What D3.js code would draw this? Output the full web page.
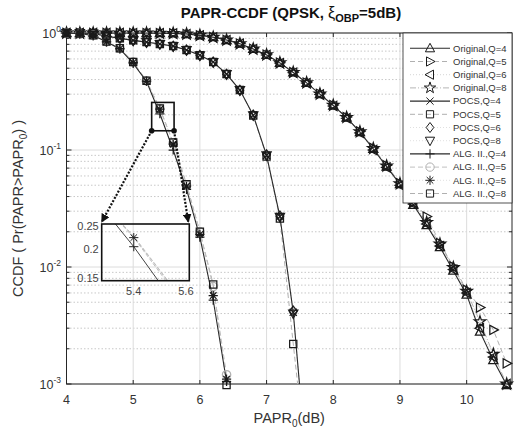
<!DOCTYPE html>
<html><head><meta charset="utf-8">
<script src="https://cdn.jsdelivr.net/npm/d3@7"></script>
<style>
body{margin:0;background:#fff;}
svg{display:block;font-family:"Liberation Sans",Arial,sans-serif;}
</style>
</head><body>
<svg id="c" width="515" height="437"></svg>
<script>
// ---------------- data ----------------
const papr = [4.0,4.2,4.4,4.6,4.8,5.0,5.2,5.4,5.6,5.8,6.0,6.2,6.4,6.6,6.8,7.0,7.2,7.4,7.6,7.8,8.0,8.2,8.4,8.6,8.8,9.0,9.2,9.4,9.6,9.8,10.0,10.2,10.4,10.6];
const paprPOCS = [4.0,4.2,4.4,4.6,4.8,5.0,5.2,5.4,5.6,5.8,6.0,6.2,6.4,6.6,6.8,7.0,7.2,7.4,7.6];
const paprALG = [4.0,4.2,4.4,4.6,4.8,5.0,5.2,5.4,5.6,5.8,6.0,6.2,6.4,6.6];

const orig4 = [1,1,1,1,1,0.9995,0.999,0.997,0.993,0.98,0.955,0.92,0.87,0.81,0.73,0.65,0.555,0.46,0.375,0.3,0.24,0.189,0.142,0.102,0.072,0.051,0.034,0.0228,0.0148,0.0093,0.0058,0.0028,0.0016,0.00098];
const orig5 = [1,1,1,1,1,0.9995,0.999,0.997,0.993,0.98,0.956,0.921,0.872,0.812,0.732,0.652,0.557,0.462,0.377,0.302,0.242,0.191,0.144,0.104,0.074,0.052,0.036,0.027,0.016,0.0101,0.0064,0.0045,0.0029,0.0015];
const orig6 = [1,1,1,1,1,0.9995,0.999,0.997,0.993,0.98,0.955,0.919,0.869,0.809,0.729,0.649,0.553,0.458,0.373,0.298,0.238,0.187,0.14,0.1,0.071,0.05,0.0345,0.0233,0.0151,0.0095,0.006,0.003,0.0017,0.001];
const orig8 = [1,1,1,1,1,0.9995,0.999,0.997,0.993,0.98,0.955,0.92,0.87,0.81,0.731,0.651,0.556,0.461,0.376,0.301,0.241,0.19,0.143,0.103,0.073,0.0515,0.0355,0.024,0.0157,0.0099,0.0062,0.0034,0.0018,0.001];

const pocs4 = [1,0.999,0.99,0.94,0.9,0.865,0.835,0.805,0.772,0.715,0.645,0.565,0.445,0.325,0.198,0.09,0.027,0.0041,0.0002];
const pocs5 = [1,0.999,0.99,0.941,0.901,0.866,0.836,0.806,0.773,0.716,0.646,0.566,0.446,0.326,0.197,0.088,0.026,0.0022,0.0002];
const pocs6 = [1,0.999,0.99,0.94,0.9,0.864,0.834,0.804,0.771,0.714,0.644,0.564,0.444,0.324,0.199,0.091,0.0272,0.0042,0.0002];
const pocs8 = [1,0.999,0.99,0.939,0.899,0.865,0.835,0.805,0.772,0.715,0.645,0.565,0.445,0.325,0.198,0.09,0.0268,0.004,0.0002];

const alg4 = [1,0.99,0.95,0.84,0.73,0.55,0.385,0.204,0.10,0.046,0.018,0.0052,0.00105,0.0001];
const alg5 = [1,0.99,0.955,0.845,0.74,0.565,0.39,0.225,0.115,0.05,0.02,0.0068,0.0012,0.0001];
const alg6 = [1,0.99,0.95,0.84,0.735,0.56,0.388,0.223,0.112,0.049,0.019,0.0057,0.0011,0.0001];
const alg8 = [1,0.99,0.955,0.845,0.74,0.565,0.39,0.226,0.116,0.051,0.02,0.0071,0.00098,0.0001];

const seriesLabels = ["Original,Q=4","Original,Q=5","Original,Q=6","Original,Q=8",
  "POCS,Q=4","POCS,Q=5","POCS,Q=6","POCS,Q=8",
  "ALG. II.,Q=4","ALG. II.,Q=5","ALG. II.,Q=5","ALG. II.,Q=8"];
const xTicks = [4,5,6,7,8,9,10];
const yTickExps = [0,-1,-2,-3];
const insetXTicks = [5.4,5.6];
const insetYTicks = [0.15,0.2,0.25];
const zoomX = [5.277,5.613];
const zoomY = [0.146,0.255];

// ---------------- styles ----------------
const styles = [
  {m:"triUp",   dash:null,      col:"#2a2a2a", lw:1.1, mc:"#1a1a1a"},
  {m:"triRight",dash:"5,3",     col:"#b0b0b0", lw:1, mc:"#1a1a1a"},
  {m:"triLeft", dash:"1,2",     col:"#d5d5d5", lw:1, mc:"#1a1a1a"},
  {m:"star",    dash:"6,2,1,2", col:"#b5b5b5", lw:1, mc:"#1a1a1a"},
  {m:"x",       dash:null,      col:"#2a2a2a", lw:1.1, mc:"#1a1a1a"},
  {m:"square",  dash:"5,3",     col:"#b0b0b0", lw:1, mc:"#1a1a1a"},
  {m:"diamond", dash:"1,2",     col:"#e0e0e0", lw:1, mc:"#1a1a1a"},
  {m:"triDown", dash:"1,2",     col:"#e0e0e0", lw:1, mc:"#1a1a1a"},
  {m:"plus",    dash:null,      col:"#2a2a2a", lw:1.1, mc:"#1a1a1a"},
  {m:"circle",  dash:"5,3",     col:"#c0c0c0", lw:1, mc:"#b0b0b0"},
  {m:"asterisk",dash:"1,2",     col:"#e0e0e0", lw:1, mc:"#1a1a1a"},
  {m:"square",  dash:"5,3",     col:"#b0b0b0", lw:1, mc:"#1a1a1a"}
];
const seriesData = [
  [papr,orig4],[papr,orig5],[papr,orig6],[papr,orig8],
  [paprPOCS,pocs4],[paprPOCS,pocs5],[paprPOCS,pocs6],[paprPOCS,pocs8],
  [paprALG,alg4],[paprALG,alg5],[paprALG,alg6],[paprALG,alg8]
];

const markerPath = {
  triUp:"M0,-5L4.6,3.5L-4.6,3.5Z",
  triDown:"M0,5L4.6,-3.5L-4.6,-3.5Z",
  triRight:"M5,0L-3.5,-4.6L-3.5,4.6Z",
  triLeft:"M-5,0L3.5,-4.6L3.5,4.6Z",
  star:d3.symbol(d3.symbolStar,40)(),
  x:"M-3.6,-3.6L3.6,3.6M-3.6,3.6L3.6,-3.6",
  square:"M-3.6,-3.6H3.6V3.6H-3.6Z",
  diamond:"M0,-5L3.8,0L0,5L-3.8,0Z",
  plus:"M-4.6,0H4.6M0,-4.6V4.6",
  circle:d3.symbol(d3.symbolCircle,55)(),
  asterisk:"M-4.6,0H4.6M0,-4.6V4.6M-3.3,-3.3L3.3,3.3M-3.3,3.3L3.3,-3.3"
};

// ---------------- layout ----------------
const svg = d3.select("#c");
const L=66.5, R=512, T=33, B=384;
const x = d3.scaleLinear().domain([4,10.68]).range([L,R]);
const y = d3.scaleLog().domain([1e-3,1]).range([B,T]);
const axisCol = "#262626";

svg.append("defs").append("clipPath").attr("id","plotclip")
  .append("rect").attr("x",L).attr("y",T).attr("width",R-L).attr("height",B-T);

// grid
const gGrid = svg.append("g");
const minorVals = [];
for (let e=-3;e<0;e++) for (let k=2;k<=9;k++) minorVals.push(k*Math.pow(10,e));
gGrid.selectAll(".ymin").data(minorVals).join("line")
  .attr("x1",L).attr("x2",R).attr("y1",d=>y(d)).attr("y2",d=>y(d))
  .attr("stroke","#c8c8c8").attr("stroke-width",1).attr("stroke-dasharray","1.5,2");
gGrid.selectAll(".ymaj").data(yTickExps).join("line")
  .attr("x1",L).attr("x2",R).attr("y1",d=>y(Math.pow(10,d))).attr("y2",d=>y(Math.pow(10,d)))
  .attr("stroke","#dcdcdc").attr("stroke-width",1);
gGrid.selectAll(".xmaj").data(xTicks).join("line")
  .attr("x1",d=>x(d)).attr("x2",d=>x(d)).attr("y1",T).attr("y2",B)
  .attr("stroke","#dcdcdc").attr("stroke-width",1);

// axes (box, ticks inward)
const gAx = svg.append("g").attr("stroke",axisCol).attr("fill","none");
gAx.append("rect").attr("x",L).attr("y",T).attr("width",R-L).attr("height",B-T).attr("stroke-width",1);
xTicks.forEach(t=>{
  gAx.append("line").attr("x1",x(t)).attr("x2",x(t)).attr("y1",B).attr("y2",B-4);
  gAx.append("line").attr("x1",x(t)).attr("x2",x(t)).attr("y1",T).attr("y2",T+4);
});
yTickExps.forEach(e=>{
  const v=Math.pow(10,e);
  gAx.append("line").attr("x1",L).attr("x2",L+5).attr("y1",y(v)).attr("y2",y(v));
  gAx.append("line").attr("x1",R).attr("x2",R-5).attr("y1",y(v)).attr("y2",y(v));
});
minorVals.forEach(v=>{
  gAx.append("line").attr("x1",L).attr("x2",L+3).attr("y1",y(v)).attr("y2",y(v));
  gAx.append("line").attr("x1",R).attr("x2",R-3).attr("y1",y(v)).attr("y2",y(v));
});

// tick labels
svg.selectAll(".xtl").data(xTicks).join("text")
  .attr("x",d=>x(d)).attr("y",404).attr("text-anchor","middle")
  .attr("font-size",12.5).attr("fill","#333").text(d=>d);
yTickExps.forEach(e=>{
  const t = svg.append("text").attr("x",61).attr("y",y(Math.pow(10,e))+4.5)
    .attr("text-anchor","end").attr("font-size",12.5).attr("fill","#333");
  t.append("tspan").text("10");
  t.append("tspan").attr("dy",-6).attr("font-size",8.5).text(String(e));
});

// axis labels & title
const xl = svg.append("text").attr("x",(L+R)/2).attr("y",423).attr("text-anchor","middle")
  .attr("font-size",14.5).attr("fill","#333");
xl.append("tspan").text("PAPR");
xl.append("tspan").attr("dy",4).attr("font-size",10).text("0");
xl.append("tspan").attr("dy",-4).text("(dB)");

const yl = svg.append("text").attr("transform",`translate(23,${(T+B)/2}) rotate(-90)`)
  .attr("text-anchor","middle").attr("font-size",14.5).attr("fill","#333");
yl.append("tspan").text("CCDF ( Pr(PAPR>PAPR");
yl.append("tspan").attr("dy",4).attr("font-size",10).text("0");
yl.append("tspan").attr("dy",-4).text(") )");

const tt = svg.append("text").attr("x",291).attr("y",18).attr("text-anchor","middle")
  .attr("font-size",15).attr("font-weight","bold").attr("fill","#111");
tt.append("tspan").text("PAPR-CCDF (QPSK, ");
tt.append("tspan").attr("font-weight","normal").attr("font-size",16).text("ξ");
tt.append("tspan").attr("dy",4).attr("font-size",11).text("OBP");
tt.append("tspan").attr("dy",-4).text("=5dB)");

// ---------------- series ----------------
const line = d3.line().x(d=>x(d[0])).y(d=>y(Math.max(d[1],1e-6)));
const gLines = svg.append("g").attr("clip-path","url(#plotclip)");
const drawOrder = [11,10,9,7,6,5,3,2,1,8,4,0];
drawOrder.forEach(i=>{
  const [xs,vs]=seriesData[i], s=styles[i];
  const pts = xs.map((v,j)=>[v,vs[j]]);
  gLines.append("path").datum(pts).attr("d",line).attr("fill","none")
    .attr("stroke",s.col).attr("stroke-width",s.lw)
    .attr("stroke-dasharray",s.dash);
});
const gMk = svg.append("g");
seriesData.forEach(([xs,vs],i)=>{
  const s=styles[i];
  const pts = xs.map((v,j)=>[v,vs[j]]).filter(d=>d[1]>=0.00095);
  gMk.selectAll(null).data(pts).join("path")
    .attr("transform",d=>`translate(${x(d[0])},${y(d[1])})`)
    .attr("d",markerPath[s.m]).attr("fill","none").attr("stroke",s.mc).attr("stroke-width",1.25);
});

// ---------------- zoom box + inset ----------------
const IL=101.7, IR=189.3, IT=224, IB=280.7;
const xi = d3.scaleLinear().domain(zoomX).range([IL,IR]);
const yi = d3.scaleLog().domain(zoomY).range([IB,IT]);
svg.append("defs").append("clipPath").attr("id","insetclip")
  .append("rect").attr("x",IL).attr("y",IT).attr("width",IR-IL).attr("height",IB-IT);

const bx0=x(zoomX[0]), bx1=x(zoomX[1]), by0=y(zoomY[1]), by1=y(zoomY[0]);
svg.append("rect").attr("x",bx0).attr("y",by0).attr("width",bx1-bx0).attr("height",by1-by0)
  .attr("fill","none").attr("stroke","#111").attr("stroke-width",1.6);

const lineI = d3.line().x(d=>xi(d[0])).y(d=>yi(d[1]));
const gIn = svg.append("g").attr("clip-path","url(#insetclip)");
[11,9,10,8].forEach(i=>{
  const [xs,vs]=seriesData[i];
  const pts = xs.map((v,j)=>[v,vs[j]]);
  gIn.append("path").datum(pts).attr("d",lineI).attr("fill","none")
    .attr("stroke", i===8? "#444" : "#c0c0c0").attr("stroke-width",1)
    .attr("stroke-dasharray", i===8? null : "4,2");
});
[8,10].forEach(i=>{
  const [xs,vs]=seriesData[i], s=styles[i];
  const pts = xs.map((v,j)=>[v,vs[j]]).filter(d=>d[0]>zoomX[0]&&d[0]<zoomX[1]&&d[1]>zoomY[0]&&d[1]<zoomY[1]);
  gIn.selectAll(null).data(pts).join("path")
    .attr("transform",d=>`translate(${xi(d[0])},${yi(d[1])})`)
    .attr("d",markerPath[s.m]).attr("fill","none").attr("stroke","#222").attr("stroke-width",1);
});
svg.append("rect").attr("x",IL).attr("y",IT).attr("width",IR-IL).attr("height",IB-IT)
  .attr("fill","none").attr("stroke","#111").attr("stroke-width",1.6);
svg.selectAll(".ixt").data(insetXTicks).join("text")
  .attr("x",d=>xi(d)).attr("y",IB+14).attr("text-anchor","middle")
  .attr("font-size",11).attr("fill","#444").text(d=>d);
svg.selectAll(".iyt").data(insetYTicks).join("text")
  .attr("x",IL-3).attr("y",d=>yi(d)+4).attr("text-anchor","end")
  .attr("font-size",11).attr("fill","#444").text(d=>d);

// arrows
const defs = svg.append("defs");
defs.append("marker").attr("id","ah").attr("viewBox","0 0 10 10").attr("refX",9).attr("refY",5)
  .attr("markerWidth",4).attr("markerHeight",4).attr("orient","auto")
  .append("path").attr("d","M0,0L10,5L0,10Z").attr("fill","#111");
const arrows = [[bx0,by1,IL,IT-2],[bx1,by1,IR-1,IT-2]];
arrows.forEach(a=>{
  svg.append("line").attr("x1",a[0]).attr("y1",a[1]).attr("x2",a[2]).attr("y2",a[3])
    .attr("stroke","#111").attr("stroke-width",2.2).attr("stroke-dasharray","2,1.6")
    .attr("marker-end","url(#ah)");
  svg.append("circle").attr("cx",a[0]).attr("cy",a[1]).attr("r",2.8).attr("fill","#111");
});

// ---------------- legend ----------------
const lgX=403, lgY=T, lgW=R-403, lgH=170;
const lg = svg.append("g");
lg.append("rect").attr("x",lgX).attr("y",lgY).attr("width",lgW).attr("height",lgH)
  .attr("fill","#fff").attr("stroke",axisCol).attr("stroke-width",0.8);
seriesLabels.forEach((lab,i)=>{
  const s=styles[i], yy = lgY+15.3+i*13.2;
  lg.append("line").attr("x1",lgX+7).attr("x2",lgX+47).attr("y1",yy).attr("y2",yy)
    .attr("stroke",s.col).attr("stroke-width",s.lw).attr("stroke-dasharray",s.dash);
  lg.append("path").attr("transform",`translate(${lgX+27},${yy})`).attr("d",markerPath[s.m])
    .attr("fill","none").attr("stroke",s.mc).attr("stroke-width",1);
  lg.append("text").attr("x",lgX+50).attr("y",yy+3.3).attr("font-size",9.5).attr("fill","#333").text(lab);
});
</script>
</body></html>
